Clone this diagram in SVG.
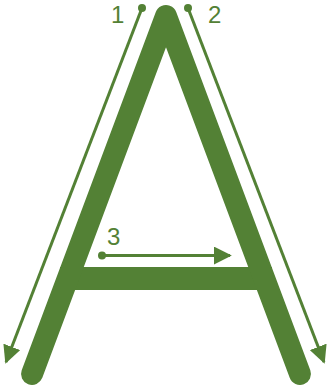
<svg xmlns="http://www.w3.org/2000/svg" width="329" height="391" viewBox="0 0 329 391">
<defs>
<style>
.letter{fill:none;stroke:#538135;stroke-width:22;stroke-linecap:round;stroke-linejoin:round}
.bar{fill:none;stroke:#538135;stroke-width:23}
.arr{fill:none;stroke:#538135;stroke-width:3}
.dot{fill:#538135}
.lbl{font-family:"Liberation Sans",Arial,sans-serif;font-size:24px;fill:#538135}
</style>
<marker id="ah" viewBox="0 0 10 10" refX="9" refY="5" markerWidth="6" markerHeight="6" markerUnits="strokeWidth" orient="auto">
<path d="M0,0 L10,5 L0,10 Z" fill="#538135"/>
</marker>
</defs>
<g id="letterA">
<path class="bar" d="M60,278.5 H272"/>
<path class="letter" d="M32,374 L166,16 L300,374"/>
</g>
<g id="connectors">
<path class="arr" d="M142,8 L6,362" marker-end="url(#ah)"/>
<path class="arr" d="M188,8 L324,362" marker-end="url(#ah)"/>
<path class="arr" d="M102,255.5 L230,255.5" marker-end="url(#ah)"/>
<circle class="dot" cx="142" cy="8" r="4"/>
<circle class="dot" cx="188" cy="8" r="4"/>
<circle class="dot" cx="102" cy="255.5" r="4"/>
</g>
<g id="label1"><text class="lbl" x="111" y="23">1</text></g>
<g id="label2"><text class="lbl" x="208" y="23">2</text></g>
<g id="label3"><text class="lbl" x="107" y="245">3</text></g>
</svg>
